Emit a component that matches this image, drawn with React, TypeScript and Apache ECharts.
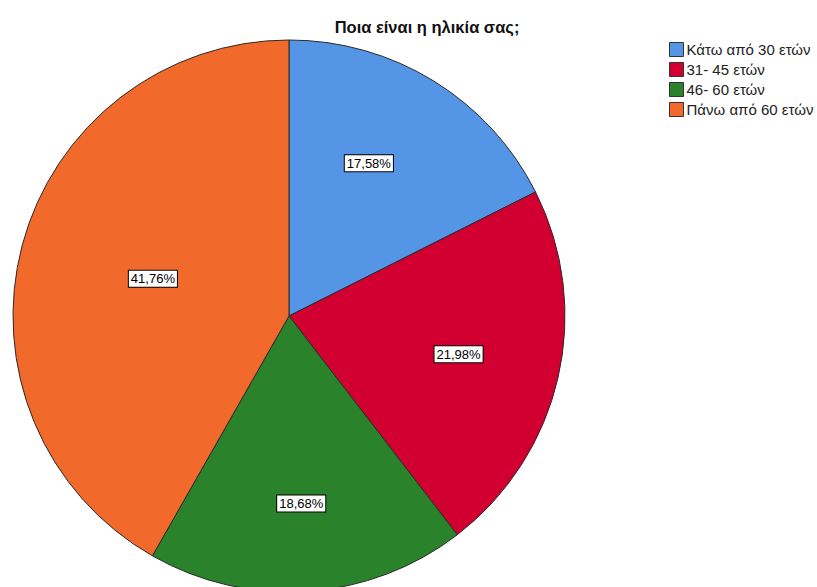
import React, { useEffect, useRef } from "react";
import * as echarts from "echarts";

const categories = ["Κάτω από 30 ετών", "31- 45 ετών", "46- 60 ετών", "Πάνω από 60 ετών"];
const values = [17.58, 21.98, 18.68, 41.76];
const colors = ["#5495e5", "#d20030", "#2a832a", "#f26a2b"];
const labelOffsets = [[-13, -2], [-3, -1], [0, 11], [35, 8]];
const title = "Ποια είναι η ηλικία σας;";

export default function App() {
  const ref = useRef<HTMLDivElement>(null);
  useEffect(() => {
    document.body.style.margin = "0";
    const chart = echarts.init(ref.current!, null, { renderer: "svg" });
    const data = categories.map((name, i) => ({
      name,
      value: values[i],
      itemStyle: { color: colors[i] },
    }));
    chart.setOption({
      animation: false,
      backgroundColor: "#ffffff",
      title: {
        text: title,
        left: 427,
        top: 18,
        padding: 0,
        textAlign: "center",
        textStyle: {
          fontFamily: "Liberation Sans, Arial, sans-serif",
          fontSize: 16.5,
          fontWeight: "bold",
          color: "#111",
        },
      },
      legend: {
        orient: "vertical",
        left: 669,
        top: 42,
        padding: 0,
        itemWidth: 14,
        itemHeight: 14,
        itemGap: 5,
        icon: "rect",
        data: categories,
        itemStyle: { borderColor: "#333", borderWidth: 1 },
        textStyle: {
          fontFamily: "Liberation Sans, Arial, sans-serif",
          fontSize: 15,
          lineHeight: 14,
          color: "#222",
          padding: [0, 0, 0, -2],
        },
      },
      series: [
        {
          type: "pie",
          center: [289, 316],
          radius: [0, 276],
          startAngle: 90,
          clockwise: true,
          silent: true,
          data,
          label: { show: false },
          labelLine: { show: false },
          itemStyle: { borderColor: "#2a2a2a", borderWidth: 1 },
        },
        {
          type: "pie",
          center: [289, 316],
          radius: [72, 276],
          startAngle: 90,
          clockwise: true,
          silent: true,
          legendHoverLink: false,
          data: categories.map((name, i) => ({
            name: name + " ",
            value: values[i],
            itemStyle: { color: "transparent" },
            label: { offset: labelOffsets[i] },
          })),
          itemStyle: { color: "transparent", borderWidth: 0 },
          label: {
            show: true,
            position: "inside",
            formatter: (p: any) => values[p.dataIndex].toFixed(2).replace(".", ",") + "%",
            fontFamily: "Liberation Sans, Arial, sans-serif",
            fontSize: 13,
            color: "#000",
            backgroundColor: "#ffffff",
            borderColor: "#000",
            borderWidth: 1,
            padding: [2, 2, 1, 2],
          },
          labelLine: { show: false },
        },
      ],
    });
    return () => chart.dispose();
  }, []);
  return <div ref={ref} style={{ width: 817, height: 587 }} />;
}
